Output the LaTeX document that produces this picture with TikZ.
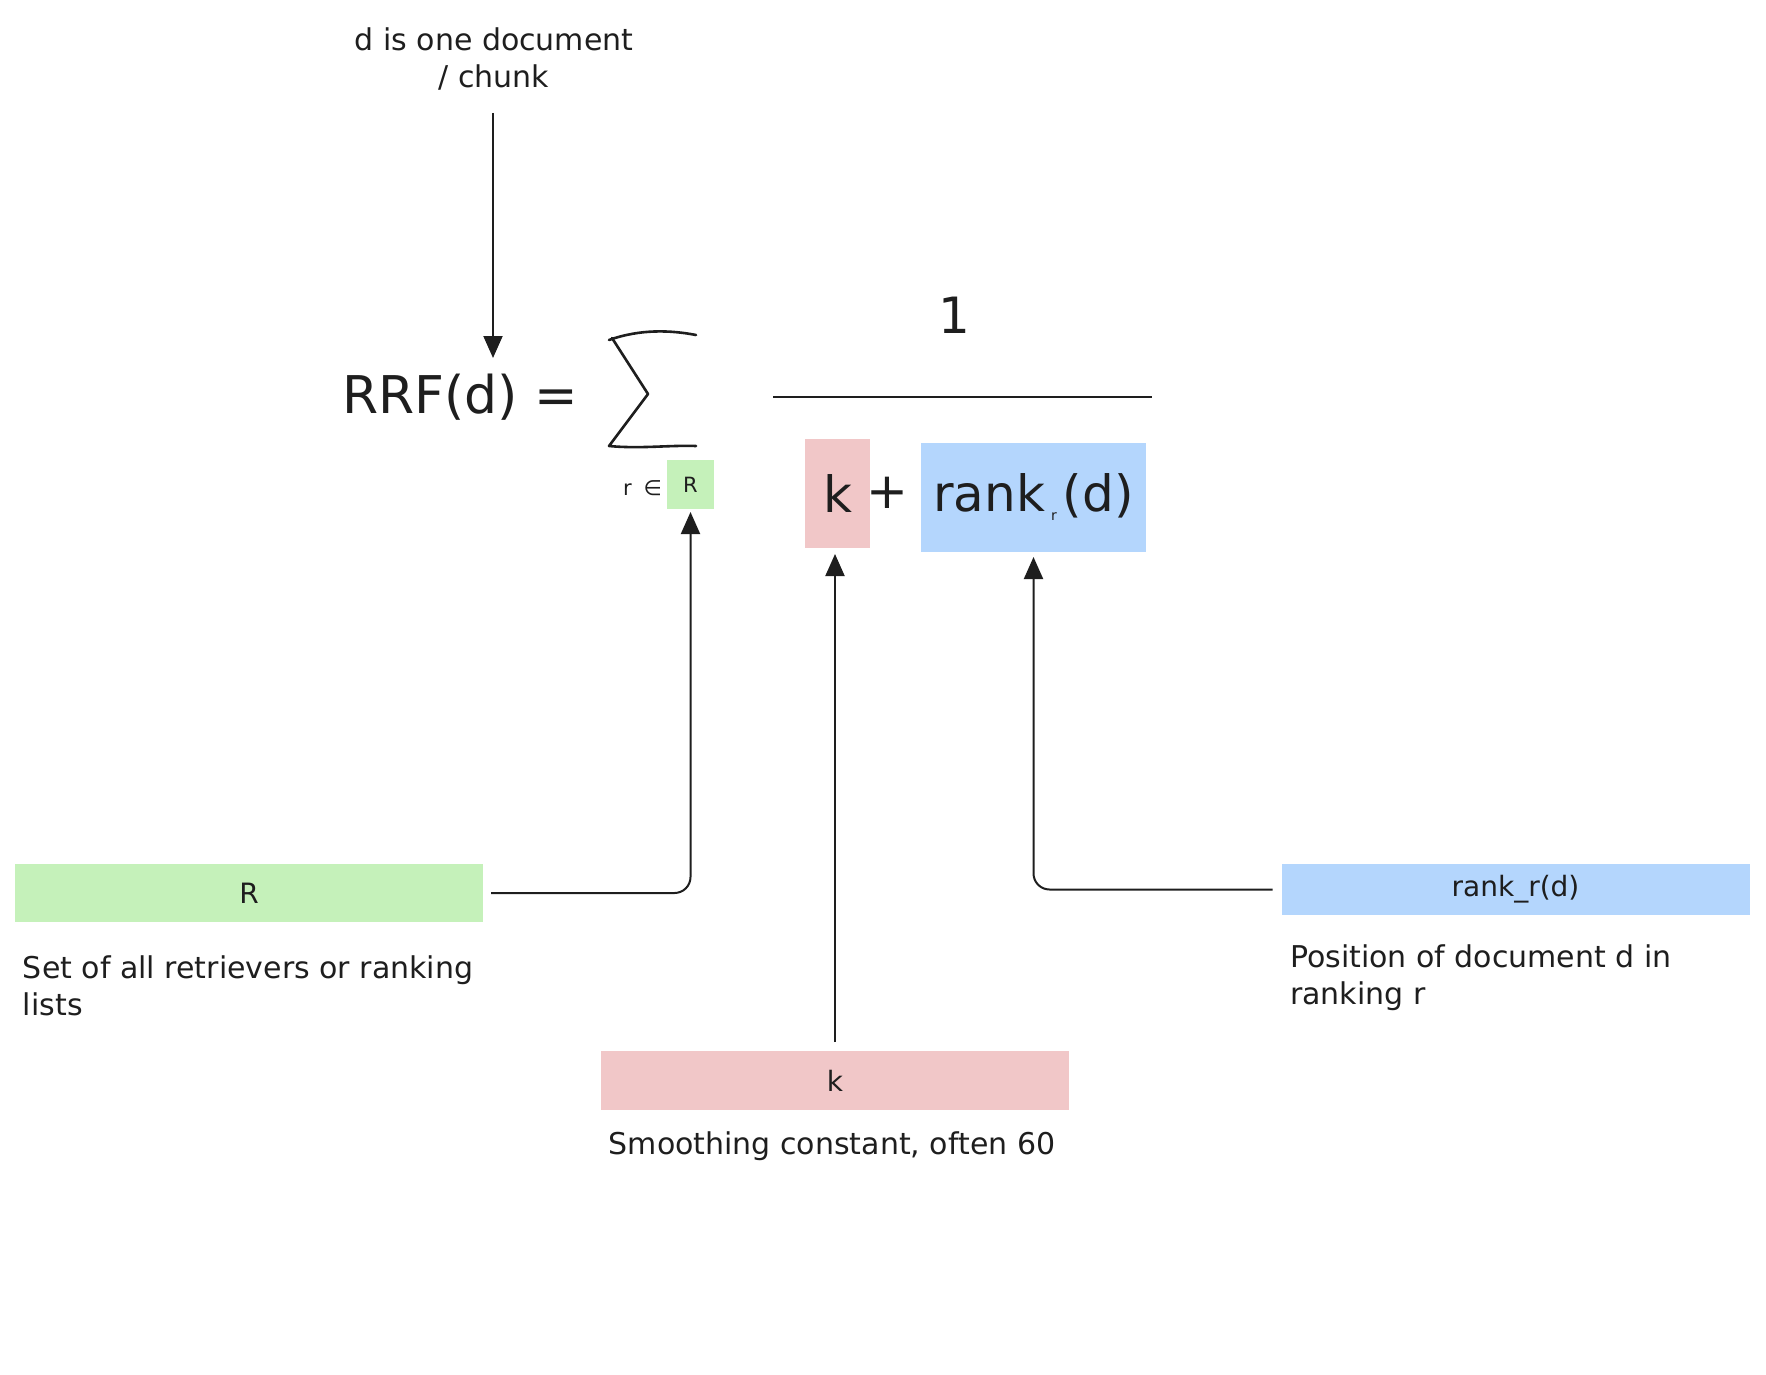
\documentclass[tikz,border=0pt]{standalone}
\usepackage{fontspec}
\setmainfont{DejaVu Sans}
\usetikzlibrary{arrows.meta}
\definecolor{ink}{HTML}{1E1E1E}
\definecolor{gfill}{RGB}{197,241,186}
\definecolor{pfill}{RGB}{241,199,200}
\definecolor{bfill}{RGB}{180,214,253}
\begin{document}
\begin{tikzpicture}[x=0.5pt,y=-0.5pt,
  every node/.style={text=ink, inner sep=0pt, outer sep=0pt},
  captext/.style={font=\fontsize{15pt}{18.5pt}\selectfont, align=left, anchor=north west},
  lbl/.style={font=\fontsize{14pt}{17pt}\selectfont},
  colbox/.style={minimum width=234pt, draw=none},
  big/.style={font=\fontsize{25pt}{30pt}\selectfont},
  smalltext/.style={font=\fontsize{10.5pt}{12pt}\selectfont},
  arr/.style={draw=ink, line width=1pt, -{Triangle[length=11pt,width=9.5pt]}, rounded corners=8pt},
]
\useasboundingbox (0,0) rectangle (1766,1375);

% label boxes
\node[colbox, fill=gfill, minimum height=29pt, lbl] (Rbox) at (249,893) {R};
\node[colbox, fill=pfill, minimum height=29.5pt, lbl] (kbox) at (835,1080.5) {k};
\node[colbox, fill=bfill, minimum height=25.5pt, lbl] (rankbox) at (1515.5,889.5) {rank\_r(d)};

% captions
\node[captext] (Rcap) at (23,956) {Set of all retrievers or ranking\\lists};
\node[captext] (rankcap) at (1290,945) {Position of document d in\\ranking r};
\node[captext, anchor=north, align=center] (kcap) at (832,1132) {Smoothing constant, often 60};
\node[captext, anchor=north, align=center] (dnote) at (494,28) {d is one document\\/ chunk};

% formula
\node[big, font=\fontsize{26pt}{30pt}\selectfont, anchor=base] (rrf) at (460,413) {RRF(d) =};
\node[big, anchor=base] (one) at (954,333) {1};
\draw[line width=1.3pt, ink] (773,397) -- (1152,397);
\node[big, fill=pfill, minimum width=32.5pt, minimum height=54.5pt] (kf) at (837.5,493.5) {k};
\node[big, anchor=base] (plus) at (887,508) {+};
\node[big, fill=bfill, minimum width=112.5pt, minimum height=54.5pt] (rf) at (1033.5,497.5)
  {rank\hspace{3pt}\raisebox{-4.5pt}{\fontsize{7pt}{8pt}\selectfont r}\hspace{3pt}(d)};
\node[smalltext, anchor=base east] (rin) at (662,495) {r\hspace{6pt}∈};
\node[smalltext, fill=gfill, minimum width=23.5pt, minimum height=24.5pt] (sumR) at (690.5,484.5) {R};

% sigma
\draw[ink, line width=1.3pt, line cap=round, line join=round]
  (609,340) .. controls (640,329) and (670,330) .. (696,335);
\draw[ink, line width=1.3pt, line cap=round, line join=round]
  (612,338) -- (648,394) -- (609,446) .. controls (640,449) and (670,445) .. (696,446);

% connectors
\coordinate (dstart) at (493,113);
\coordinate (dtip) at (493,358);
\draw[arr] (dstart) -- (dtip);
\draw[arr, shorten <=4pt, shorten >=1.5pt] (Rbox.east) -| (sumR.south);
\draw[arr, shorten <=4.5pt, shorten >=3pt] (kbox.north) -- (kbox.north |- kf.south);
\draw[arr, shorten <=4.5pt, shorten >=2.5pt] (rankbox.west) -| (rf.south);
\end{tikzpicture}
\end{document}
